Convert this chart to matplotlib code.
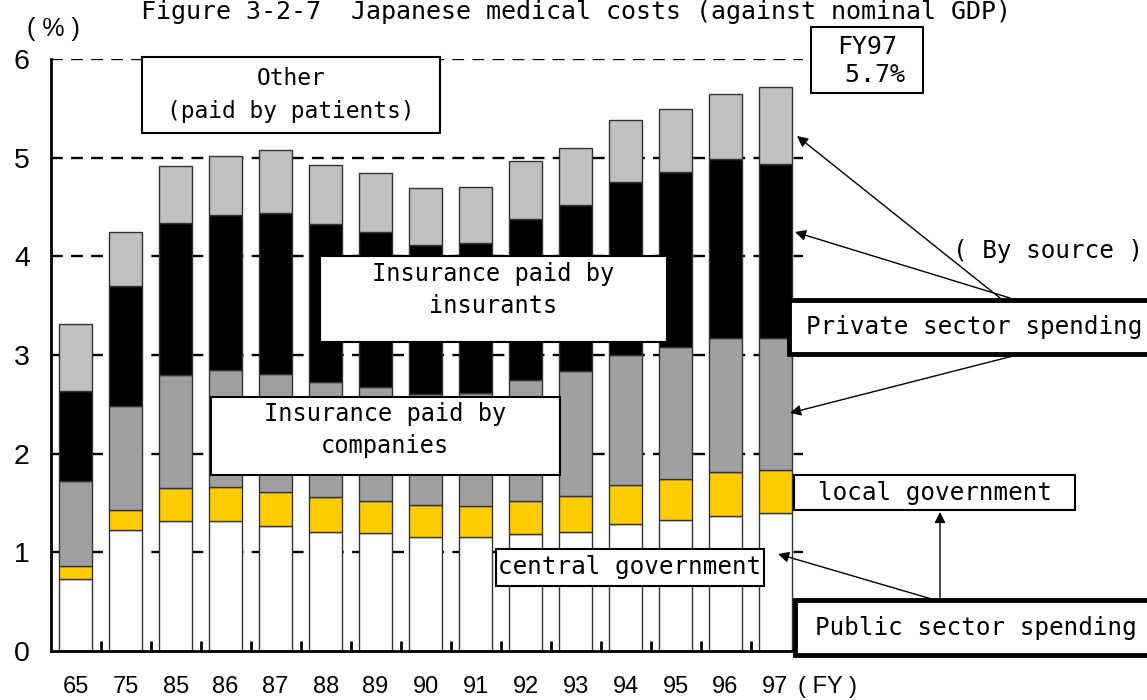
# Imports
import matplotlib
matplotlib.use("Agg")
import matplotlib.pyplot as plt
from matplotlib.patches import Rectangle

# Data (% of nominal GDP)
years = ["65", "75", "85", "86", "87", "88", "89", "90", "91", "92",
         "93", "94", "95", "96", "97"]
central_gov = [0.73, 1.23, 1.32, 1.32, 1.27, 1.21, 1.20, 1.16, 1.16, 1.19,
               1.21, 1.29, 1.33, 1.37, 1.40]
local_gov = [0.13, 0.20, 0.33, 0.34, 0.34, 0.35, 0.32, 0.32, 0.31, 0.33,
             0.36, 0.39, 0.41, 0.44, 0.44]
ins_companies = [0.86, 1.05, 1.15, 1.19, 1.20, 1.17, 1.16, 1.13, 1.15, 1.23,
                 1.27, 1.32, 1.34, 1.36, 1.33]
ins_insurants = [0.92, 1.22, 1.54, 1.57, 1.63, 1.60, 1.57, 1.51, 1.52, 1.63,
                 1.68, 1.75, 1.78, 1.82, 1.77]
other_patients = [0.68, 0.55, 0.58, 0.60, 0.64, 0.60, 0.60, 0.57, 0.56, 0.59,
                  0.58, 0.63, 0.64, 0.66, 0.78]
y_ticks = [0, 1, 2, 3, 4, 5, 6]

W_PX, H_PX = 1147, 700
MONO = "DejaVu Sans Mono"
SANS = "Liberation Sans"


def fxy(x, y):
    """Pixel position (from top-left) -> figure fraction."""
    return x / W_PX, 1 - y / H_PX


def add_box(fig, x0, y0, x1, y1, lw=1.5):
    """White framed box in pixel coords (top-left origin)."""
    fx, fy = fxy(x0, y1)
    rect = Rectangle((fx, fy), (x1 - x0) / W_PX, (y1 - y0) / H_PX,
                     transform=fig.transFigure, facecolor="white",
                     edgecolor="black", linewidth=lw, zorder=5)
    fig.add_artist(rect)


def add_label(fig, x, y, s, size=17.5, ha="center", family=MONO, spacing=1.3):
    fx, fy = fxy(x, y)
    fig.text(fx, fy, s, ha=ha, va="center", fontsize=size,
             family=family, zorder=6, linespacing=spacing)


def add_arrow(ax, start, end):
    ax.annotate("", xy=fxy(*end), xytext=fxy(*start),
                xycoords="figure fraction", textcoords="figure fraction",
                arrowprops=dict(arrowstyle="-|>", color="black", lw=1,
                                shrinkA=0, shrinkB=0, mutation_scale=16),
                annotation_clip=False, zorder=7)


fig = plt.figure(figsize=(W_PX / 100, H_PX / 100), dpi=100)
ax_left, ax_right, ax_top, ax_bottom = 50.7, 803, 59.2, 651
ax = fig.add_axes([ax_left / W_PX, 1 - ax_bottom / H_PX,
                   (ax_right - ax_left) / W_PX, (ax_bottom - ax_top) / H_PX])

# Stacked bars
x = list(range(len(years)))
series = [
    (central_gov, "white"),
    (local_gov, "#FFCC00"),
    (ins_companies, "#A0A0A0"),
    (ins_insurants, "black"),
    (other_patients, "#C0C0C0"),
]
bottom = [0.0] * len(years)
for values, color in series:
    ax.bar(x, values, width=0.667, bottom=bottom, color=color,
           edgecolor="#333333", linewidth=1, zorder=3)
    bottom = [b + v for b, v in zip(bottom, values)]

# Axes styling
ax.set_xlim(-0.5, 14.55)
ax.set_ylim(0, 6)
for side in ["top", "right"]:
    ax.spines[side].set_visible(False)
ax.spines["left"].set_linewidth(2)
ax.spines["bottom"].set_linewidth(2)
ax.spines["left"].set_zorder(4)
ax.spines["bottom"].set_zorder(4)

ax.set_yticks(y_ticks)
ax.set_yticklabels([str(t) for t in y_ticks], fontsize=20.5, family=SANS)
ax.tick_params(axis="y", length=0, pad=15)
for t in y_ticks[1:]:
    ax.axhline(t, color="black", linestyle=(0, (5, 3.5)), linewidth=1.7,
               zorder=1)

ax.set_xticks([i + 0.5 for i in range(len(years) - 1)])
ax.set_xticklabels([])
ax.tick_params(axis="x", which="major", direction="in", length=7, width=2)
ax.set_xticks(x, minor=True)
ax.set_xticklabels(years, minor=True, fontsize=17, family=SANS)
ax.tick_params(axis="x", which="minor", length=0, pad=18)

# Title and axis units
tx, ty = fxy(576, 19)
fig.text(tx, ty, "Figure 3-2-7  Japanese medical costs (against nominal GDP)",
         ha="center", va="baseline", fontsize=18, family=MONO)
add_label(fig, 53, 29, "( % )", size=18, family=SANS)
add_label(fig, 798, 687, "( FY )", size=17, ha="left", family=SANS)

# Annotation boxes
add_box(fig, 142, 57, 440, 133)
add_label(fig, 291, 95, "Other\n(paid by patients)", size=16.5, spacing=1.55)

add_box(fig, 320, 256, 667, 342)
add_label(fig, 493, 290, "Insurance paid by\ninsurants", size=17, spacing=1.4)

add_box(fig, 211, 397, 560, 475)
add_label(fig, 385, 430, "Insurance paid by\ncompanies", size=17, spacing=1.4)

add_box(fig, 496, 549, 764, 586)
add_label(fig, 630, 567, "central government", size=17.5)

add_box(fig, 794, 475, 1075, 510)
add_label(fig, 935, 493, "local government", size=17.5)

add_box(fig, 789, 300, 1150, 354, lw=3.5)
add_label(fig, 806, 327, "Private sector spending", size=17.5, ha="left")

add_box(fig, 795, 600, 1150, 655, lw=3.5)
add_label(fig, 815, 628, "Public sector spending", size=17.5, ha="left")

add_label(fig, 1048, 251, "( By source )", size=17.5)

add_box(fig, 811, 27, 923, 93)
add_label(fig, 867, 61, "FY97\n 5.7%", size=18, spacing=1.25)

# Arrows from the source boxes
add_arrow(ax, (1000, 298), (797, 136))
add_arrow(ax, (1010, 298), (795, 232))
add_arrow(ax, (1013, 356), (790, 413))
add_arrow(ax, (940, 600), (940, 512))
add_arrow(ax, (935, 600), (778, 554))

fig.savefig("out.png", dpi=100)
